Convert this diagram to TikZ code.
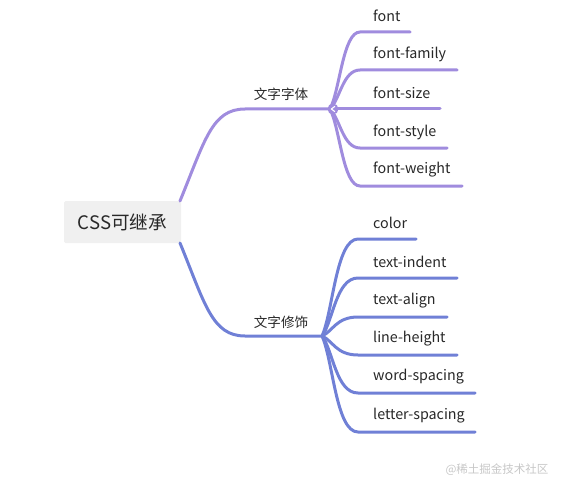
\documentclass[tikz,border=0pt]{standalone}
\usepackage{fontspec}
\usetikzlibrary{calc}
\setmainfont{Noto Sans CJK SC}
\definecolor{upc}{RGB}{160,140,222}
\definecolor{loc}{RGB}{112,128,214}
\definecolor{rootbg}{RGB}{240,240,240}
\definecolor{txt}{RGB}{40,40,40}
\begin{document}
\begin{tikzpicture}[x=1pt,y=-1pt,
  branchup/.style={draw=upc,line width=3pt,line cap=round},
  branchlo/.style={draw=loc,line width=3pt,line cap=round},
  leaf/.style={anchor=west,inner sep=0pt,font=\fontsize{14.3}{16}\selectfont,text=txt},
  sub/.style={anchor=center,inner sep=0pt,font=\fontsize{13.6}{15}\selectfont,text=txt},
  rootbox/.style={fill=rootbg,rounded corners=1.5pt,minimum width=117pt,minimum height=42pt,inner sep=0pt,font=\fontsize{18.6}{20}\selectfont,text=txt}]
\useasboundingbox (0,0) rectangle (564,492);
\node[rootbox] (root) at (122.5,222) {CSS可继承};
\coordinate (ru) at (180,201);
\coordinate (rl) at (180,243);
% sub topics
\node[sub] (s1) at (281,94) {文字字体};
\node[sub] (s2) at (281,322) {文字修饰};
\coordinate (j1) at (330,109);
\coordinate (j2) at (322,336);
\draw[branchup] (ru) .. controls (205,140) and (212,109) .. (245,109) -- (j1);
\draw[branchlo] (rl) .. controls (205,304) and (212,336) .. (245,336) -- (j2);
% upper leaves
\foreach \n/\t/\y/\e in {a1/font/32/410,a2/font-family/70/457,a3/font-size/109/440,a4/font-style/148/447,a5/font-weight/186/462}{
  \node[leaf] (\n) at (373,\y-16) {\t};
  \coordinate (\n e) at (\e,\y);
  \coordinate (\n s) at (360,\y);
  \draw[branchup] (j1) .. controls (340,\y*0.25+109*0.75) and (343,\y) .. (\n s) -- (\n e);
}
% lower leaves
\foreach \n/\t/\y/\e in {b1/color/239/416,b2/text-indent/278/457,b3/text-align/317/447,b4/line-height/355/457,b5/word-spacing/393/475,b6/letter-spacing/432/475}{
  \node[leaf] (\n) at (373,\y-16) {\t};
  \coordinate (\n e) at (\e,\y);
  \coordinate (\n s) at (358,\y);
  \draw[branchlo] (j2) .. controls (333,\y*0.25+336*0.75) and (336,\y) .. (\n s) -- (\n e);
}
% collapse marker
\node[circle,fill=upc,minimum size=11pt,inner sep=0pt] (mk) at (333,109) {};
\draw[white,line width=1.1pt,line cap=round,line join=round] ($(mk)+(1.8,-2.6)$) coordinate (m1) -- ($(mk)+(-1.6,0)$) coordinate (m2) -- ($(mk)+(1.8,2.6)$) coordinate (m3);
\node[anchor=center,inner sep=0pt,font=\fontsize{11.5}{13}\selectfont,text=black!22] (wm) at (497,470) {@稀土掘金技术社区};
\end{tikzpicture}
\end{document}
